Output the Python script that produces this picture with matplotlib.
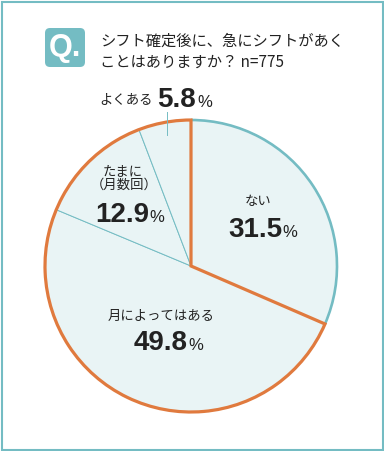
import numpy as np
import matplotlib.pyplot as plt
from matplotlib.patches import Wedge, Arc, Rectangle, FancyBboxPatch

# data
labels = ['ない', '月によってはある', 'たまに\n（月数回）', 'よくある']
values = [31.5, 49.8, 12.9, 5.8]
title_lines = ['シフト確定後に、急にシフトがあく', 'ことはありますか？ n=775']

W, H = 384, 451
teal = '#74bcc3'
orange = '#e07a3e'
fill = '#e9f4f5'
ink = '#222222'
jp = ['Noto Sans CJK JP', 'DejaVu Sans']
num = ['Liberation Sans', 'DejaVu Sans']

plt.rcParams['font.family'] = jp

def py(y):
    # image y (from top) -> axes y
    return H - y

fig = plt.figure(figsize=(W / 100, H / 100), dpi=100)
ax = fig.add_axes([0, 0, 1, 1])

cx, cy, R = 191, py(266), 146
wedges, _ = ax.pie(values, startangle=90, counterclock=False, radius=R,
                   center=(cx, cy), colors=[fill] * len(values),
                   wedgeprops=dict(edgecolor=teal, linewidth=0.7))
ax.set_xlim(0, W)
ax.set_ylim(0, H)
ax.set_aspect('equal')
ax.axis('off')

# outer arc of "ない" in teal, the rest outlined in orange
w0 = wedges[0]
ax.add_patch(Arc((cx, cy), 2 * R, 2 * R, theta1=w0.theta1, theta2=w0.theta2,
                 color=teal, lw=1.9))
ax.add_patch(Wedge((cx, cy), R, w0.theta2, w0.theta1 + 360, fill=False,
                   edgecolor=orange, lw=2.3, joinstyle='miter'))

# leader line for よくある
w3 = wedges[3]
mid = np.deg2rad((w3.theta1 + w3.theta2) / 2)
lx = cx + 0.91 * R * np.cos(mid)
ly = cy + 0.91 * R * np.sin(mid)
ax.plot([lx, lx], [ly, py(112)], color=teal, lw=0.7)

# frame
ax.add_patch(Rectangle((1.5, 1.5), W - 3, H - 3, fill=False, edgecolor=teal,
                       lw=1.5, clip_on=False))

# header
ax.add_patch(FancyBboxPatch((45, py(67)), 40, 39,
                            boxstyle='round,pad=0,rounding_size=5',
                            facecolor=teal, edgecolor='none'))
ax.text(65, py(48), 'Q.', color='white', fontsize=22, fontweight='bold',
        family=num, ha='center', va='center')
ax.text(100, py(41), title_lines[0], fontsize=11, color=ink, va='center')
ax.text(100, py(62), title_lines[1], fontsize=11, color=ink, va='center')

# labels
def pct(x_right, y_base, v, size=20):
    ax.text(x_right, py(y_base), f'{v:.1f}', fontsize=size, fontweight='bold',
            family=num, color=ink, ha='right', va='baseline')
    ax.text(x_right, py(y_base), '%', fontsize=12, family=num,
            color=ink, ha='left', va='baseline')

ax.text(258, py(201), labels[0], fontsize=9.6, color=ink, ha='center', va='center')
pct(282, 237, values[0])

ax.text(161, py(316), labels[1], fontsize=9.6, color=ink, ha='center', va='center')
pct(188, 350, values[1])

ax.text(123, py(171), 'たまに', fontsize=9.6, color=ink, ha='center', va='center')
ax.text(124, py(185), '（月数回）', fontsize=9.6, color=ink, ha='center', va='center')
pct(149, 222, values[2])

ax.text(153, py(100), labels[3], fontsize=9.6, color=ink, ha='right', va='center')
ax.text(157, py(107), f'{values[3]:.1f}', fontsize=20, fontweight='bold',
        family=num, color=ink, ha='left', va='baseline')
ax.text(197, py(107), '%', fontsize=12, family=num, color=ink,
        ha='left', va='baseline')

fig.savefig('out.png', dpi=100, facecolor='white')
